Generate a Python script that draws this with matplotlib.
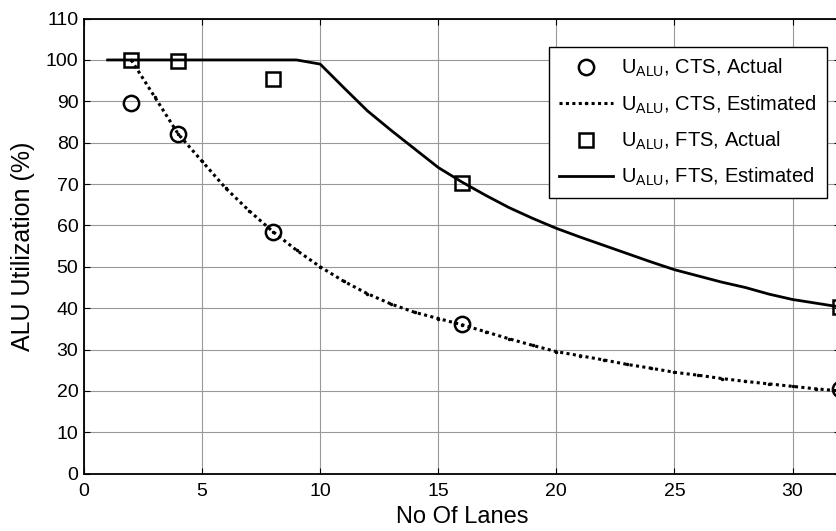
import matplotlib
matplotlib.use('Agg')
import matplotlib.pyplot as plt

plt.rcParams['font.family'] = ['Liberation Sans', 'DejaVu Sans']
plt.rcParams['mathtext.fontset'] = 'custom'
plt.rcParams['mathtext.rm'] = 'Liberation Sans'
plt.rcParams['mathtext.it'] = 'Liberation Sans:italic'

# measured points
lanes_actual = [2, 4, 8, 16, 32]
cts_actual = [89.5, 82.0, 58.5, 36.2, 20.5]
fts_actual = [100.0, 99.7, 95.4, 70.3, 40.3]

# estimated curves
lanes_cts_est = list(range(2, 33))
cts_est = [100, 91, 82, 75.5, 69, 63.5, 58.5, 54, 50, 46.5, 43.5, 41, 39, 37.5,
           36, 34.3, 32.6, 31, 29.5, 28.5, 27.5, 26.4, 25.5, 24.5, 23.8, 23,
           22.3, 21.7, 21.1, 20.5, 20]
lanes_fts_est = list(range(1, 33))
fts_est = [100, 100, 100, 100, 100, 100, 100, 100, 100, 99, 93.3, 87.7, 83,
           78.5, 74, 70.5, 67.3, 64.3, 61.7, 59.3, 57.2, 55.2, 53.2, 51.2,
           49.3, 47.8, 46.3, 45, 43.4, 42.1, 41.2, 40.3]

fig = plt.figure(figsize=(8.36, 5.31), dpi=100)
ax = fig.add_axes([0.1005, 0.108, 0.904, 0.857])

ax.plot(lanes_actual, cts_actual, 'o', color='k', mfc='none', ms=11, mew=1.8,
        label=r'U$_{\mathrm{ALU}}$, CTS, Actual', zorder=4)
ax.plot(lanes_cts_est, cts_est, color='k', linestyle=(0, (1, 1.1)), lw=2.2,
        marker='.', ms=3, label=r'U$_{\mathrm{ALU}}$, CTS, Estimated', zorder=3)
ax.plot(lanes_actual, fts_actual, 's', color='k', mfc='none', ms=10, mew=1.8,
        label=r'U$_{\mathrm{ALU}}$, FTS, Actual', zorder=4)
ax.plot(lanes_fts_est, fts_est, '-', color='k', lw=2,
        label=r'U$_{\mathrm{ALU}}$, FTS, Estimated', zorder=3)

ax.set_xlim(0, 32)
ax.set_ylim(0, 110)
ax.set_xticks(range(0, 31, 5))
ax.set_yticks(range(0, 111, 10))
ax.grid(True, color='0.6', lw=0.8)
ax.tick_params(direction='in', top=True, right=True, labelsize=14, length=4)
ax.tick_params(axis='x', pad=7)
ax.tick_params(axis='y', pad=4)
for s in ax.spines.values():
    s.set_linewidth(1.3)

ax.set_xlabel('No Of Lanes', fontsize=17, labelpad=4)
ax.set_ylabel('ALU Utilization (%)', fontsize=18, labelpad=8)

leg = ax.legend(loc='upper right', bbox_to_anchor=(0.983, 0.938), fontsize=14.5,
                fancybox=False, framealpha=1, edgecolor='k', borderpad=0.5,
                borderaxespad=0, handlelength=2.7, handletextpad=0.4,
                labelspacing=0.7)
leg.get_frame().set_linewidth(1.0)

fig.savefig('out.png', dpi=100)
